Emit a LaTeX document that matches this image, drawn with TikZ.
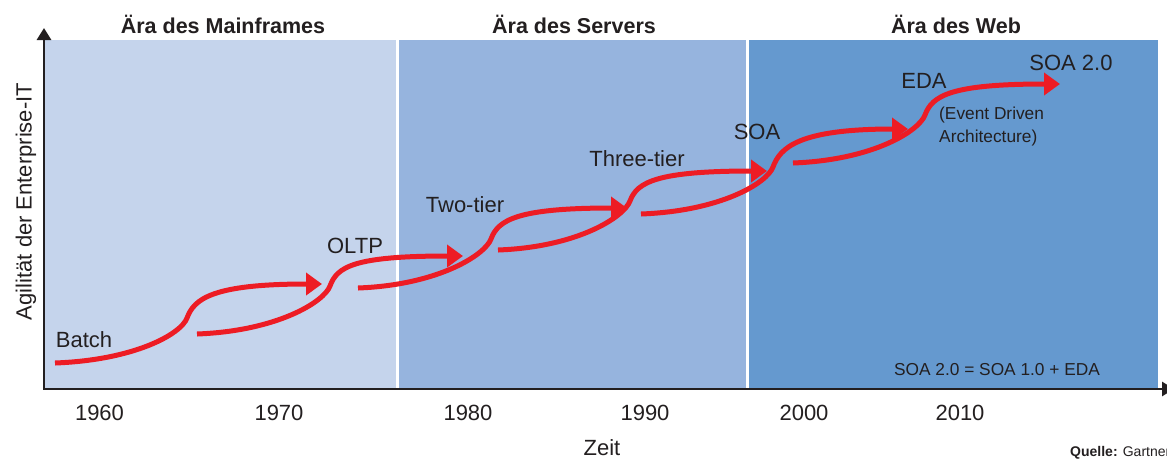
\documentclass[tikz,border=0pt]{standalone}
\usepackage{fontspec}
\setmainfont{Liberation Sans}
\usetikzlibrary{arrows.meta}
\definecolor{pA}{RGB}{197,212,236}
\definecolor{pB}{RGB}{150,180,222}
\definecolor{pC}{RGB}{101,153,207}
\definecolor{flowred}{RGB}{237,28,36}
\definecolor{ink}{RGB}{35,31,32}
\newcommand{\flowseg}[6]{%
  \draw[flow] (#1,#2) .. controls +(80,-3) and +(-6,16) .. (#3,#4)
    .. controls +(7,-19) and +(-110,0) .. (#5,#6);}
\begin{document}
\begin{tikzpicture}[x=1pt,y=-1pt,
  flow/.style={draw=flowred,line width=5pt,-{Triangle[length=16pt,width=22pt]}},
  axisline/.style={draw=ink,line width=2.8pt,line join=miter},
  lbl/.style={font=\fontsize{22}{24}\selectfont,text=ink,inner sep=0pt,anchor=base},
  era/.style={font=\fontsize{21.5}{24}\selectfont\bfseries,text=ink,inner sep=0pt,anchor=base},
  small/.style={font=\fontsize{17.3}{19}\selectfont,text=ink,inner sep=0pt,anchor=base}]
\useasboundingbox (0,0) rectangle (1167,459);
\fill[white] (0,0) rectangle (1167,459);
% panels
\fill[pA] (45,40) rectangle (396,388);
\fill[pB] (399,40) rectangle (746,388);
\fill[pC] (749,40) rectangle (1158,388);
% axes
\draw[axisline,{Triangle[length=12pt,width=14pt]}-{Triangle[length=12pt,width=14pt]}]
  (44,28) -- (44,389) -- (1174,389);
% era titles
\node[era] (e1) at (223,33) {Ära des Mainframes};
\node[era] (e2) at (574,33) {Ära des Servers};
\node[era] (e3) at (956,33) {Ära des Web};
% flows
\flowseg{55}{363}{187}{318}{322}{284}
\flowseg{197}{334}{330}{286}{463}{256}
\flowseg{358}{288}{491}{239}{627}{208}
\flowseg{498}{250}{630}{201}{767}{171}
\flowseg{641}{214}{773}{167}{908}{129}
\flowseg{793}{163}{925}{115}{1060}{84}
% labels
\node[lbl] (batch) at (84,347) {Batch};
\node[lbl] (oltp) at (355,253) {OLTP};
\node[lbl] (two) at (465,212) {Two-tier};
\node[lbl] (three) at (637,166) {Three-tier};
\node[lbl] (soa) at (757,139) {SOA};
\node[lbl] (eda) at (924,88) {EDA};
\node[lbl] (soa2) at (1071,70) {SOA 2.0};
\node[small,anchor=base west] (ev1) at (939,119) {(Event Driven};
\node[small,anchor=base west] (ev2) at (939,142) {Architecture)};
\node[small] (eq) at (997,375) {SOA 2.0 = SOA 1.0 + EDA};
% years
\node[lbl] (y60) at (99.5,420) {1960};
\node[lbl] (y70) at (279,420) {1970};
\node[lbl] (y80) at (468,420) {1980};
\node[lbl] (y90) at (645,420) {1990};
\node[lbl] (y00) at (804,420) {2000};
\node[lbl] (y10) at (960,420) {2010};
\node[lbl] (zeit) at (602,455) {Zeit};
\node[lbl,rotate=90] (agil) at (31.5,201.5) {Agilität der Enterprise-IT};
\node[font=\fontsize{14}{16}\selectfont,text=ink,inner sep=0pt,anchor=base west] (src) at (1070,456) {\textbf{Quelle:} Gartner};
\end{tikzpicture}
\end{document}
